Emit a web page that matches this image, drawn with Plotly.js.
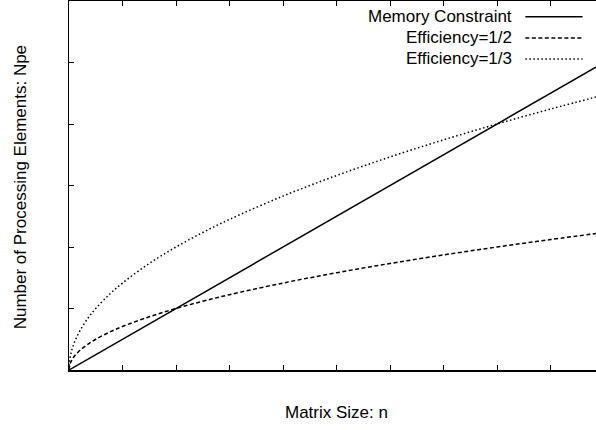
<!DOCTYPE html>
<html>
<head>
<meta charset="utf-8">
<script src="https://cdn.plot.ly/plotly-3.0.1.min.js"></script>
<style>
  html, body { margin: 0; padding: 0; overflow: hidden; background: #fff; }
  #chart { width: 605px; height: 430px; }
</style>
</head>
<body>
<div id="chart"></div>
<script>
// Matrix size n (axis units) and the processor counts for each curve
const memoryN = [0, 10];
const memoryNpe = [0, 5];

const effN = [0, 0.02, 0.05, 0.1, 0.2, 0.35, 0.5, 0.75, 1, 1.5, 2, 2.5, 3, 4, 5, 6, 7, 8, 9, 10];
const effHalfNpe = [0, 0.1, 0.158, 0.224, 0.316, 0.418, 0.5, 0.612, 0.707, 0.866, 1, 1.118, 1.225, 1.414, 1.581, 1.732, 1.871, 2, 2.121, 2.236];
const effThirdNpe = [0, 0.2, 0.316, 0.447, 0.632, 0.837, 1, 1.225, 1.414, 1.732, 2, 2.236, 2.449, 2.828, 3.162, 3.464, 3.742, 4, 4.243, 4.472];

const seriesNames = ['Memory Constraint', 'Efficiency=1/2', 'Efficiency=1/3'];
const seriesDash = ['solid', '4px,2.5px', '1.5px,2.5px'];

const FONT = 'Liberation Sans, Arial, Helvetica, sans-serif';
const FONT_SIZE = 17;

const traces = [
  { x: memoryN, y: memoryNpe },
  { x: effN, y: effHalfNpe },
  { x: effN, y: effThirdNpe }
].map((t, i) => ({
  x: t.x, y: t.y, type: 'scatter', mode: 'lines', name: seriesNames[i],
  line: { color: '#000', width: 1.5, dash: seriesDash[i], shape: i === 0 ? 'linear' : 'spline', smoothing: 1 },
  hoverinfo: 'skip', showlegend: false
}));

// Key in the upper right: right-aligned labels followed by line samples
const keyRows = [0.957, 0.900, 0.843];
const annotations = seriesNames.map((name, i) => ({
  xref: 'paper', yref: 'paper', x: 0.832, y: keyRows[i],
  xanchor: 'right', yanchor: 'middle', showarrow: false,
  text: name, font: { family: FONT, size: FONT_SIZE, color: '#000' }
}));
const shapes = seriesNames.map((name, i) => ({
  type: 'line', xref: 'paper', yref: 'paper',
  x0: 0.853, x1: 0.96, y0: keyRows[i], y1: keyRows[i],
  line: { color: '#000', width: 1.5, dash: seriesDash[i] }
}));

annotations.push({
  xref: 'paper', yref: 'paper', x: 0.5, y: -0.1165, xanchor: 'center', yanchor: 'middle',
  showarrow: false, text: 'Matrix Size: n', font: { family: FONT, size: FONT_SIZE, color: '#000' }
});
annotations.push({
  xref: 'paper', yref: 'paper', x: -0.0916, y: 0.495, xanchor: 'center', yanchor: 'middle',
  textangle: -90, showarrow: false, text: 'Number of Processing Elements: Npe',
  font: { family: FONT, size: FONT_SIZE, color: '#000' }
});

const layout = {
  width: 605, height: 430,
  margin: { l: 69, r: 1, t: 1, b: 60 },
  paper_bgcolor: '#fff', plot_bgcolor: '#fff',
  showlegend: false,
  xaxis: {
    range: [0, 10], dtick: 1, tick0: 0, showticklabels: false,
    ticks: 'inside', ticklen: 5, tickwidth: 1, tickcolor: '#000',
    showline: true, linecolor: '#000', linewidth: 1.5, mirror: 'ticks',
    showgrid: false, zeroline: false
  },
  yaxis: {
    range: [0, 6], dtick: 1, tick0: 0, showticklabels: false,
    ticks: 'inside', ticklen: 5, tickwidth: 1, tickcolor: '#000',
    showline: true, linecolor: '#000', linewidth: 1.5, mirror: 'ticks',
    showgrid: false, zeroline: false
  },
  annotations: annotations,
  shapes: shapes
};

Plotly.newPlot('chart', traces, layout, { staticPlot: true, displayModeBar: false });
</script>
</body>
</html>
